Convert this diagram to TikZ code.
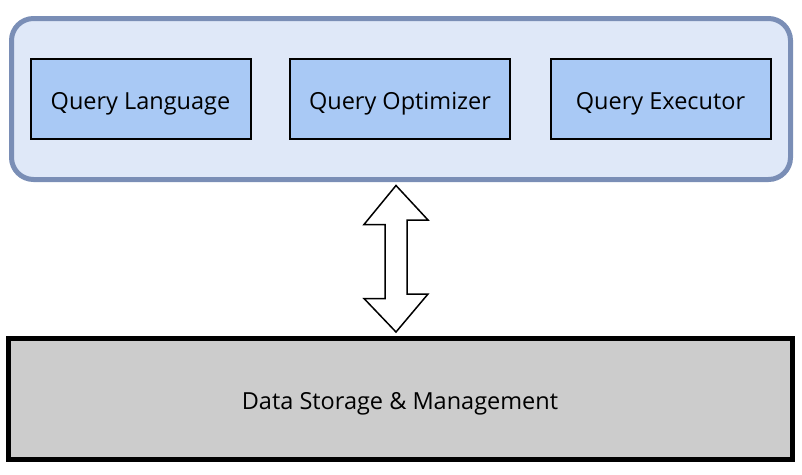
\documentclass[tikz,border=0pt]{standalone}
\usepackage{fontspec}
\setmainfont{Open Sans}
\definecolor{contfill}{HTML}{DFE8F8}
\definecolor{contline}{HTML}{7A8EB6}
\definecolor{boxfill}{HTML}{A9C9F5}
\definecolor{storefill}{HTML}{CCCCCC}
\tikzset{
  container/.style={draw=contline, fill=contfill, line width=5pt, rounded corners=22pt},
  labelfont/.style={font=\fontsize{23.5}{28}\selectfont, text height=24pt, text depth=2.8pt},
  compbox/.style={draw=black, fill=boxfill, line width=2pt, minimum width=220pt, minimum height=80pt, inner sep=0pt, labelfont},
  storebox/.style={draw=black, fill=storefill, line width=5pt, minimum width=784pt, minimum height=121pt, inner sep=0pt, labelfont},
  blockarrow/.style={draw=black, fill=white, line width=1.5pt, line join=miter}
}
\begin{document}
\begin{tikzpicture}[x=1pt,y=-1pt]
\useasboundingbox (0,0) rectangle (802,474);
\node[container, minimum width=779pt, minimum height=161pt, inner sep=0pt] (cont) at (401,99) {};
\node[compbox] (lang) at (140.5,99) {Query Language};
\node[compbox] (opt) at (400,99) {Query Optimizer};
\node[compbox] (exec) at (660.5,99) {Query Executor};
\node[storebox] (store) at (400,399) {Data Storage \& Management};
\coordinate (atop) at ([xshift=-5pt,yshift=-3.5pt]cont.south);
\coordinate (abot) at ([xshift=-4pt,yshift=4pt]store.north);
\draw[blockarrow] (atop) -- ++(-32,39) -- ++(21,0) -- ++(0,74) -- ++(-21,0) -- (abot)
  -- ++(32,-38) -- ++(-21,0) -- ++(0,-74) -- ++(21,0) -- cycle;
\end{tikzpicture}
\end{document}
